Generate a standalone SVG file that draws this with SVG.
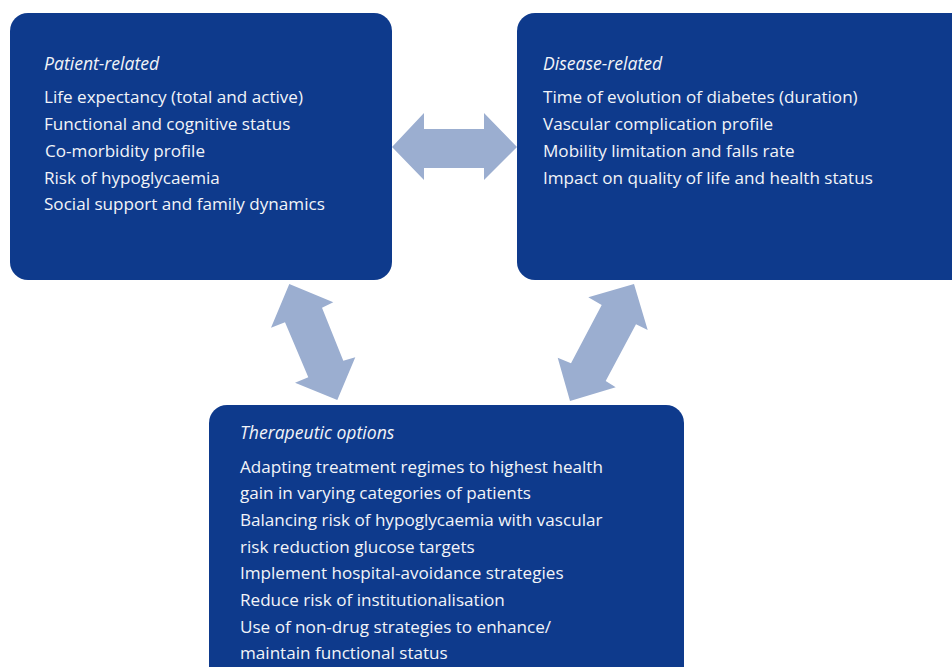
<svg xmlns="http://www.w3.org/2000/svg" width="952" height="667" viewBox="0 0 952 667">
<style>
.box{fill:#0E3A8C}
.arr{fill:#9BAED0}
text{font-family:"Open Sans","Liberation Sans",sans-serif;font-size:17.1px;fill:#F2F4F8}
.t{font-style:italic;font-size:17.6px}
</style>
<rect width="952" height="667" fill="#ffffff"/>
<g id="connectors">
<polygon class="arr" points="392,147 424,113 424,129 484,129 484,113 517,147 484,180 484,168 424,168 424,180"/>
<polygon class="arr" points="289.3,284 333.3,302.3 322,307.7 343.3,360.7 355.3,357.3 337.3,400 295,382.7 308.3,377.3 285,322.3 271,327.7"/>
<polygon class="arr" points="634,284 647.7,330 636,324.3 605.7,381 615.7,387.3 570,401 557.7,357.7 571,363.3 601.7,305 588.3,297.3"/>
</g>
<g id="patient">
<rect class="box" x="10" y="13" width="382" height="267" rx="18"/>
<text class="t" x="44" y="70">Patient-related</text>
<text x="44" y="103">Life expectancy (total and active)</text>
<text x="44" y="130">Functional and cognitive status</text>
<text x="45" y="157">Co-morbidity profile</text>
<text x="44" y="184">Risk of hypoglycaemia</text>
<text x="44" y="210">Social support and family dynamics</text>
</g>
<g id="disease">
<rect class="box" x="517" y="13" width="460" height="267" rx="18"/>
<text class="t" x="543" y="70">Disease-related</text>
<text x="543" y="103">Time of evolution of diabetes (duration)</text>
<text x="543" y="130">Vascular complication profile</text>
<text x="543" y="157">Mobility limitation and falls rate</text>
<text x="543" y="184">Impact on quality of life and health status</text>
</g>
<g id="therapeutic">
<rect class="box" x="209" y="405" width="475" height="290" rx="18"/>
<text class="t" x="240" y="439">Therapeutic options</text>
<text x="240" y="473">Adapting treatment regimes to highest health</text>
<text x="240" y="499">gain in varying categories of patients</text>
<text x="240" y="526">Balancing risk of hypoglycaemia with vascular</text>
<text x="240" y="553">risk reduction glucose targets</text>
<text x="240" y="579">Implement hospital-avoidance strategies</text>
<text x="240" y="606">Reduce risk of institutionalisation</text>
<text x="240" y="633">Use of non-drug strategies to enhance/</text>
<text x="240" y="659">maintain functional status</text>
</g>
</svg>
